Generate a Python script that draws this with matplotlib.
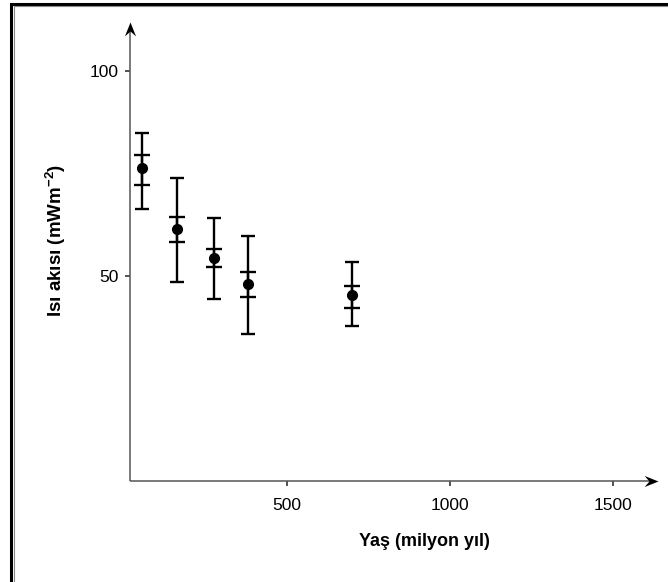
import matplotlib
matplotlib.use("Agg")
import matplotlib.pyplot as plt
from matplotlib.patches import Rectangle
from matplotlib.path import Path
import numpy as np

plt.rcParams['font.family'] = ['Liberation Sans', 'DejaVu Sans']

# Heat flow vs. age
age = [55, 163, 276, 381, 700]
flux = [76.3, 61.5, 54.4, 48.1, 45.3]
range_low = [66.4, 48.5, 44.3, 35.9, 37.8]
range_high = [85.0, 74.0, 64.1, 59.8, 53.5]
se_low = [72.2, 58.2, 52.1, 44.8, 42.3]
se_high = [79.5, 64.4, 56.5, 51.0, 47.6]

x_ticks = [500, 1000, 1500]
y_ticks = [50, 100]
x_label = "Yaş (milyon yıl)"
y_label = "Isı akısı (mWm$^{\\mathregular{-2}}$)"

W, H = 668, 582
fig = plt.figure(figsize=(W / 100, H / 100), dpi=100)

# outer frame (double line: black + gray)
fig.patches.append(Rectangle((11 / W, -0.1), 1.2, (H - 3.5) / H + 0.1,
                             transform=fig.transFigure, fill=False,
                             edgecolor='black', linewidth=2.2))
fig.patches.append(Rectangle((13.5 / W, -0.1), 1.2, (H - 5.5) / H + 0.1,
                             transform=fig.transFigure, fill=False,
                             edgecolor='#888888', linewidth=0.8))

left, right, top, bottom = 130, 658, 22, 481
ax = fig.add_axes([left / W, (H - bottom) / H, (right - left) / W, (bottom - top) / H])
ax.set_xlim(18, 1638)
ax.set_ylim(0, 112)

for s in ax.spines.values():
    s.set_visible(False)

# axis lines with barbed arrowheads
axis_col = '#555555'
ax.plot([0, 0.99], [0, 0], color=axis_col, lw=1.1, transform=ax.transAxes,
        clip_on=False, solid_capstyle='butt')
ax.plot([0, 0], [0, 0.99], color=axis_col, lw=1.1, transform=ax.transAxes,
        clip_on=False, solid_capstyle='butt')

def barb(angle):
    pts = np.array([(0, 0), (-2.0, 0.8), (-1.3, 0), (-2.0, -0.8), (0, 0)])
    c, s = np.cos(np.radians(angle)), np.sin(np.radians(angle))
    rot = pts @ np.array([[c, s], [-s, c]])
    return Path(rot, [Path.MOVETO, Path.LINETO, Path.LINETO, Path.LINETO, Path.CLOSEPOLY])

ax.plot([1], [0], marker=barb(0), ms=20, color='black', mew=0,
        transform=ax.transAxes, clip_on=False)
ax.plot([0], [1], marker=barb(90), ms=20, color='black', mew=0,
        transform=ax.transAxes, clip_on=False)

ax.set_xticks(x_ticks)
ax.set_yticks(y_ticks)
ax.tick_params(direction='out', length=3.5, width=1.2, color='#333333',
               labelsize=12.5)
ax.tick_params(axis='x', pad=9)
ax.tick_params(axis='y', pad=5)

age_a = np.array(age)
flux_a = np.array(flux)
outer = [flux_a - np.array(range_low), np.array(range_high) - flux_a]
inner = [flux_a - np.array(se_low), np.array(se_high) - flux_a]

ax.errorbar(age_a, flux_a, yerr=outer, fmt='o', color='black', ms=7,
            elinewidth=1.7, capsize=5, capthick=1.7, clip_on=False)
ax.errorbar(age_a, flux_a, yerr=inner, fmt='none', ecolor='black',
            elinewidth=1.7, capsize=6, capthick=1.7, clip_on=False)

fig.text(424 / W, 1 - 541 / H, x_label, ha='center', va='center',
         fontsize=13, fontweight='bold')
fig.text(56 / W, 1 - 240 / H, y_label, ha='center', va='center',
         rotation=90, fontsize=13.5, fontweight='bold')

fig.savefig('out.png', dpi=100)
